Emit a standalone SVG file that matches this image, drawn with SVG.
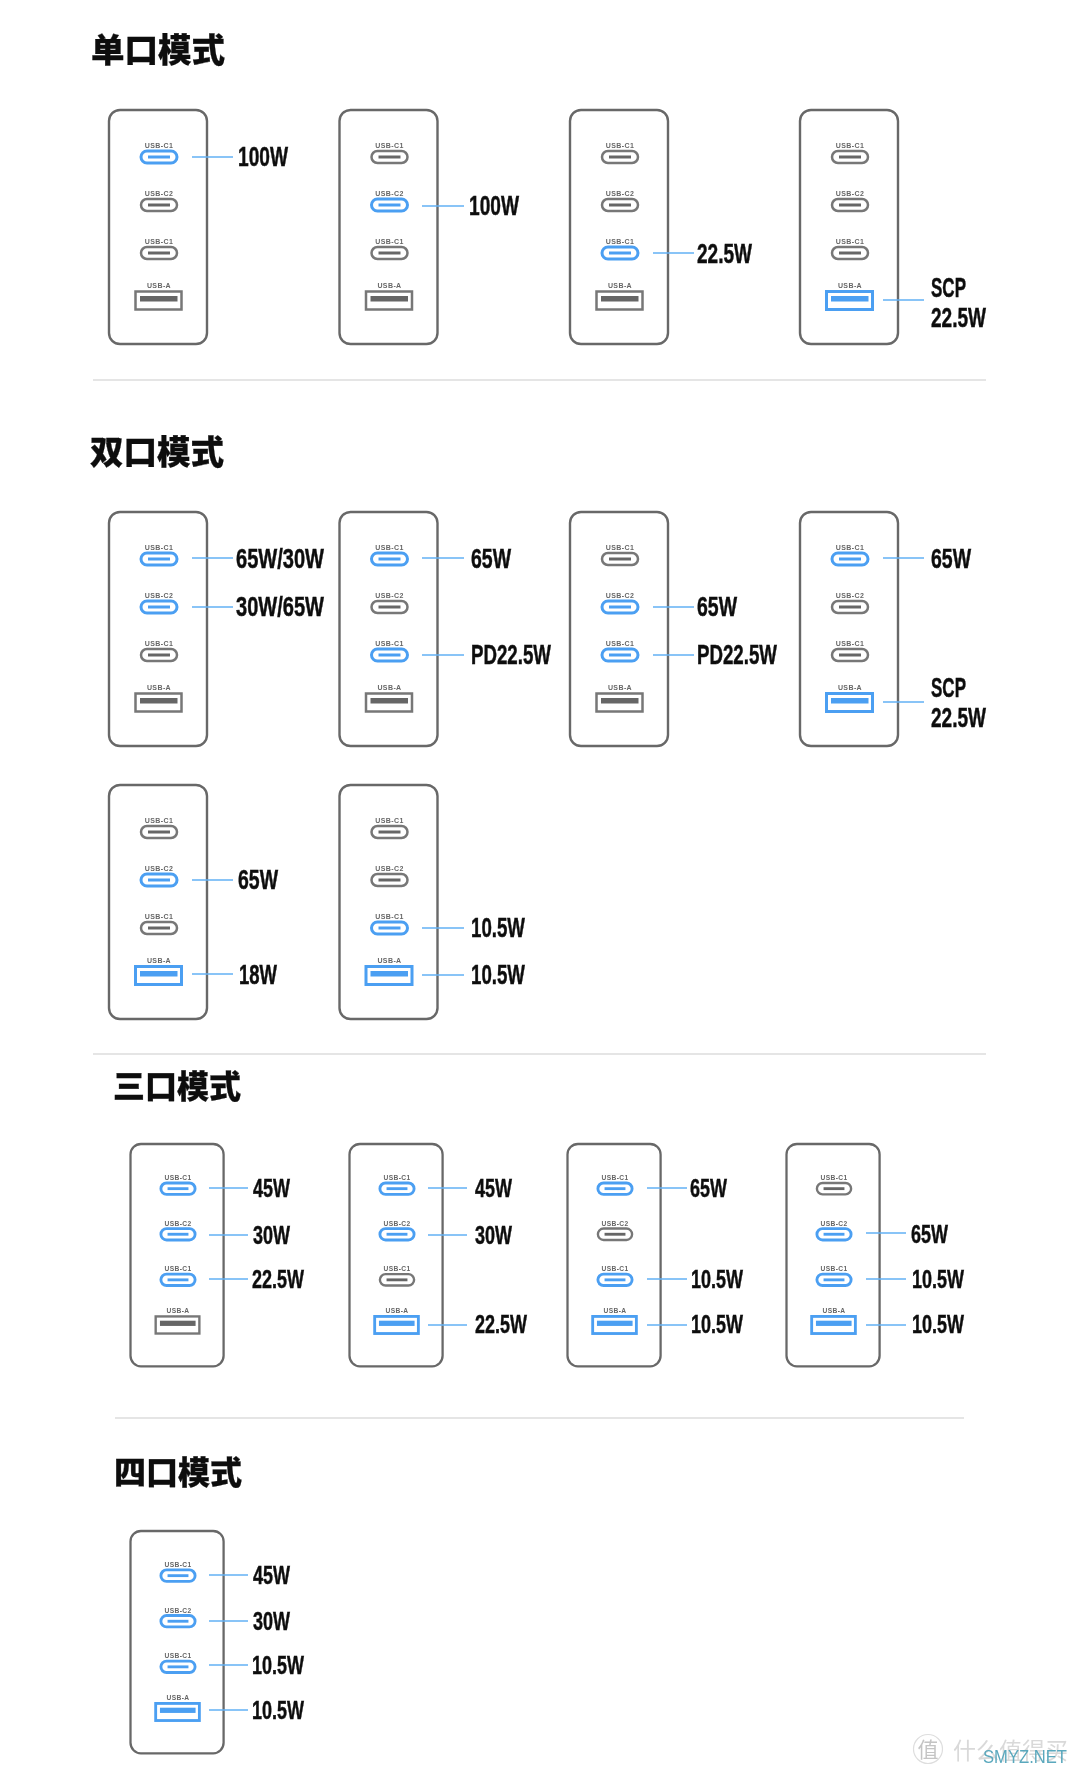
<svg xmlns="http://www.w3.org/2000/svg" width="1080" height="1776" viewBox="0 0 1080 1776">
<style>
.t{font-family:"Noto Sans CJK SC","Liberation Sans",sans-serif;font-weight:900;fill:#111;stroke:#111;stroke-width:.3}
.w{font-family:"Liberation Sans",Arial,sans-serif;font-weight:700;font-size:28px;fill:#111;stroke:#111;stroke-width:.5;transform:translateY(-1px)}
.s{font-size:26.5px}
.p{font-family:"Liberation Sans",Arial,sans-serif;font-weight:700;font-size:7px;fill:#666;text-anchor:middle;letter-spacing:.4px}
.body{fill:#fff;stroke:#686868;stroke-width:2.4}
.g{fill:#fff;stroke:#777;stroke-width:2.5}
.b{fill:#fff;stroke:#4b9ff2;stroke-width:3}
.gi{stroke:#666;stroke-width:3;fill:none}
.bi{stroke:#4b9ff2;stroke-width:3;fill:none}
.gb{fill:#666}
.bb{fill:#4b9ff2}
.c line{stroke:#62b0f4;stroke-width:1.5}
.d{stroke:#dcdcdc;stroke-width:1.4}
</style>
<defs>
<filter id="soft" x="0" y="0" width="100%" height="100%"><feGaussianBlur stdDeviation="0.45"/></filter>
<rect id="body" class="body" x="0" y="0" width="98" height="234" rx="11"/>
<g id="cg"><rect class="g" x="32" y="-6" width="36" height="12" rx="6"/><line class="gi" x1="39" y1="0" x2="61" y2="0"/></g>
<g id="cb"><rect class="b" x="32" y="-6" width="36" height="12" rx="6"/><line class="bi" x1="39" y1="0" x2="61" y2="0"/></g>
<g id="ag"><rect class="g" x="26.500" y="181.500" width="46" height="18"/><rect class="gb" x="31" y="186" width="37.500" height="5.500"/></g>
<g id="ab"><rect class="b" x="26.500" y="181.500" width="46" height="18"/><rect class="bb" x="31" y="186" width="37.500" height="5.500"/></g>
</defs>
<rect width="1080" height="1776" fill="#fff"/>
<g filter="url(#soft)">
<g id="titles">
<text class="t" x="91" y="62" font-size="33.500">单口模式</text>
<text class="t" x="90" y="464" font-size="33.500">双口模式</text>
<text class="t" x="113" y="1098" font-size="32">三口模式</text>
<text class="t" x="114" y="1484" font-size="32">四口模式</text>
</g>
<g id="dividers">
<line class="d" x1="93" y1="380" x2="986" y2="380"/>
<line class="d" x1="93" y1="1054" x2="986" y2="1054"/>
<line class="d" x1="115" y1="1418" x2="964" y2="1418"/>
</g>

<g id="a1"><g transform="translate(109,110)"><use href="#body"/><text class="p" x="50" y="38">USB-C1</text><use href="#cb" y="47"/><text class="p" x="50" y="86">USB-C2</text><use href="#cg" y="95"/><text class="p" x="50" y="134">USB-C1</text><use href="#cg" y="143"/><text class="p" x="50" y="178">USB-A</text><use href="#ag"/></g><text class="w" x="238" y="167" textLength="50" lengthAdjust="spacingAndGlyphs">100W</text></g>
<g id="a2"><g transform="translate(339.500,110)"><use href="#body"/><text class="p" x="50" y="38">USB-C1</text><use href="#cg" y="47"/><text class="p" x="50" y="86">USB-C2</text><use href="#cb" y="95"/><text class="p" x="50" y="134">USB-C1</text><use href="#cg" y="143"/><text class="p" x="50" y="178">USB-A</text><use href="#ag"/></g><text class="w" x="469" y="216" textLength="50" lengthAdjust="spacingAndGlyphs">100W</text></g>
<g id="a3"><g transform="translate(570,110)"><use href="#body"/><text class="p" x="50" y="38">USB-C1</text><use href="#cg" y="47"/><text class="p" x="50" y="86">USB-C2</text><use href="#cg" y="95"/><text class="p" x="50" y="134">USB-C1</text><use href="#cb" y="143"/><text class="p" x="50" y="178">USB-A</text><use href="#ag"/></g><text class="w" x="697" y="264" textLength="55" lengthAdjust="spacingAndGlyphs">22.5W</text></g>
<g id="a4"><g transform="translate(800,110)"><use href="#body"/><text class="p" x="50" y="38">USB-C1</text><use href="#cg" y="47"/><text class="p" x="50" y="86">USB-C2</text><use href="#cg" y="95"/><text class="p" x="50" y="134">USB-C1</text><use href="#cg" y="143"/><text class="p" x="50" y="178">USB-A</text><use href="#ab"/></g><text class="w" x="931" y="298" textLength="35" lengthAdjust="spacingAndGlyphs">SCP</text><text class="w" x="931" y="328" textLength="55" lengthAdjust="spacingAndGlyphs">22.5W</text></g>

<g id="b1"><g transform="translate(109,512)"><use href="#body"/><text class="p" x="50" y="38">USB-C1</text><use href="#cb" y="47"/><text class="p" x="50" y="86">USB-C2</text><use href="#cb" y="95"/><text class="p" x="50" y="134">USB-C1</text><use href="#cg" y="143"/><text class="p" x="50" y="178">USB-A</text><use href="#ag"/></g><text class="w" x="236" y="569" textLength="88" lengthAdjust="spacingAndGlyphs">65W/30W</text><text class="w" x="236" y="617" textLength="88" lengthAdjust="spacingAndGlyphs">30W/65W</text></g>
<g id="b2"><g transform="translate(339.500,512)"><use href="#body"/><text class="p" x="50" y="38">USB-C1</text><use href="#cb" y="47"/><text class="p" x="50" y="86">USB-C2</text><use href="#cg" y="95"/><text class="p" x="50" y="134">USB-C1</text><use href="#cb" y="143"/><text class="p" x="50" y="178">USB-A</text><use href="#ag"/></g><text class="w" x="471" y="569" textLength="40" lengthAdjust="spacingAndGlyphs">65W</text><text class="w" x="471" y="665" textLength="80" lengthAdjust="spacingAndGlyphs">PD22.5W</text></g>
<g id="b3"><g transform="translate(570,512)"><use href="#body"/><text class="p" x="50" y="38">USB-C1</text><use href="#cg" y="47"/><text class="p" x="50" y="86">USB-C2</text><use href="#cb" y="95"/><text class="p" x="50" y="134">USB-C1</text><use href="#cb" y="143"/><text class="p" x="50" y="178">USB-A</text><use href="#ag"/></g><text class="w" x="697" y="617" textLength="40" lengthAdjust="spacingAndGlyphs">65W</text><text class="w" x="697" y="665" textLength="80" lengthAdjust="spacingAndGlyphs">PD22.5W</text></g>
<g id="b4"><g transform="translate(800,512)"><use href="#body"/><text class="p" x="50" y="38">USB-C1</text><use href="#cb" y="47"/><text class="p" x="50" y="86">USB-C2</text><use href="#cg" y="95"/><text class="p" x="50" y="134">USB-C1</text><use href="#cg" y="143"/><text class="p" x="50" y="178">USB-A</text><use href="#ab"/></g><text class="w" x="931" y="569" textLength="40" lengthAdjust="spacingAndGlyphs">65W</text><text class="w" x="931" y="698" textLength="35" lengthAdjust="spacingAndGlyphs">SCP</text><text class="w" x="931" y="728" textLength="55" lengthAdjust="spacingAndGlyphs">22.5W</text></g>

<g id="b5"><g transform="translate(109,785)"><use href="#body"/><text class="p" x="50" y="38">USB-C1</text><use href="#cg" y="47"/><text class="p" x="50" y="86">USB-C2</text><use href="#cb" y="95"/><text class="p" x="50" y="134">USB-C1</text><use href="#cg" y="143"/><text class="p" x="50" y="178">USB-A</text><use href="#ab"/></g><text class="w" x="238" y="890" textLength="40" lengthAdjust="spacingAndGlyphs">65W</text><text class="w" x="239" y="985" textLength="38" lengthAdjust="spacingAndGlyphs">18W</text></g>
<g id="b6"><g transform="translate(339.500,785)"><use href="#body"/><text class="p" x="50" y="38">USB-C1</text><use href="#cg" y="47"/><text class="p" x="50" y="86">USB-C2</text><use href="#cg" y="95"/><text class="p" x="50" y="134">USB-C1</text><use href="#cb" y="143"/><text class="p" x="50" y="178">USB-A</text><use href="#ab"/></g><text class="w" x="471" y="938" textLength="54" lengthAdjust="spacingAndGlyphs">10.5W</text><text class="w" x="471" y="985" textLength="54" lengthAdjust="spacingAndGlyphs">10.5W</text></g>

<g id="c1"><g transform="translate(130.500,1144) scale(.95)"><use href="#body"/><text class="p" x="50" y="38">USB-C1</text><use href="#cb" y="47"/><text class="p" x="50" y="86">USB-C2</text><use href="#cb" y="95"/><text class="p" x="50" y="134">USB-C1</text><use href="#cb" y="143"/><text class="p" x="50" y="178">USB-A</text><use href="#ag"/></g><text class="w s" x="253" y="1198" textLength="37" lengthAdjust="spacingAndGlyphs">45W</text><text class="w s" x="253" y="1245" textLength="37" lengthAdjust="spacingAndGlyphs">30W</text><text class="w s" x="252" y="1289" textLength="52" lengthAdjust="spacingAndGlyphs">22.5W</text></g>
<g id="c2"><g transform="translate(349.500,1144) scale(.95)"><use href="#body"/><text class="p" x="50" y="38">USB-C1</text><use href="#cb" y="47"/><text class="p" x="50" y="86">USB-C2</text><use href="#cb" y="95"/><text class="p" x="50" y="134">USB-C1</text><use href="#cg" y="143"/><text class="p" x="50" y="178">USB-A</text><use href="#ab"/></g><text class="w s" x="475" y="1198" textLength="37" lengthAdjust="spacingAndGlyphs">45W</text><text class="w s" x="475" y="1245" textLength="37" lengthAdjust="spacingAndGlyphs">30W</text><text class="w s" x="475" y="1334" textLength="52" lengthAdjust="spacingAndGlyphs">22.5W</text></g>
<g id="c3"><g transform="translate(567.500,1144) scale(.95)"><use href="#body"/><text class="p" x="50" y="38">USB-C1</text><use href="#cb" y="47"/><text class="p" x="50" y="86">USB-C2</text><use href="#cg" y="95"/><text class="p" x="50" y="134">USB-C1</text><use href="#cb" y="143"/><text class="p" x="50" y="178">USB-A</text><use href="#ab"/></g><text class="w s" x="690" y="1198" textLength="37" lengthAdjust="spacingAndGlyphs">65W</text><text class="w s" x="691" y="1289" textLength="52" lengthAdjust="spacingAndGlyphs">10.5W</text><text class="w s" x="691" y="1334" textLength="52" lengthAdjust="spacingAndGlyphs">10.5W</text></g>
<g id="c4"><g transform="translate(786.500,1144) scale(.95)"><use href="#body"/><text class="p" x="50" y="38">USB-C1</text><use href="#cg" y="47"/><text class="p" x="50" y="86">USB-C2</text><use href="#cb" y="95"/><text class="p" x="50" y="134">USB-C1</text><use href="#cb" y="143"/><text class="p" x="50" y="178">USB-A</text><use href="#ab"/></g><text class="w s" x="911" y="1244" textLength="37" lengthAdjust="spacingAndGlyphs">65W</text><text class="w s" x="912" y="1289" textLength="52" lengthAdjust="spacingAndGlyphs">10.5W</text><text class="w s" x="912" y="1334" textLength="52" lengthAdjust="spacingAndGlyphs">10.5W</text></g>

<g id="d1"><g transform="translate(130.500,1531) scale(.95)"><use href="#body"/><text class="p" x="50" y="38">USB-C1</text><use href="#cb" y="47"/><text class="p" x="50" y="86">USB-C2</text><use href="#cb" y="95"/><text class="p" x="50" y="134">USB-C1</text><use href="#cb" y="143"/><text class="p" x="50" y="178">USB-A</text><use href="#ab"/></g><text class="w s" x="253" y="1585" textLength="37" lengthAdjust="spacingAndGlyphs">45W</text><text class="w s" x="253" y="1631" textLength="37" lengthAdjust="spacingAndGlyphs">30W</text><text class="w s" x="252" y="1675" textLength="52" lengthAdjust="spacingAndGlyphs">10.5W</text><text class="w s" x="252" y="1720" textLength="52" lengthAdjust="spacingAndGlyphs">10.5W</text></g>

<g id="connectors" class="c">
<line x1="192" y1="157" x2="233" y2="157"/><line x1="422" y1="206" x2="464" y2="206"/><line x1="653" y1="253" x2="694" y2="253"/><line x1="883" y1="300" x2="924" y2="300"/>
<line x1="192" y1="558" x2="233" y2="558"/><line x1="192" y1="607" x2="233" y2="607"/>
<line x1="422" y1="558" x2="464" y2="558"/><line x1="422" y1="655" x2="464" y2="655"/>
<line x1="653" y1="607" x2="694" y2="607"/><line x1="653" y1="655" x2="694" y2="655"/>
<line x1="883" y1="558" x2="924" y2="558"/><line x1="883" y1="702" x2="924" y2="702"/>
<line x1="192" y1="880" x2="233" y2="880"/><line x1="192" y1="974" x2="233" y2="974"/>
<line x1="422" y1="928" x2="464" y2="928"/><line x1="422" y1="975" x2="464" y2="975"/>
<line x1="209" y1="1188" x2="248" y2="1188"/><line x1="209" y1="1235" x2="248" y2="1235"/><line x1="209" y1="1279" x2="248" y2="1279"/>
<line x1="428" y1="1188" x2="467" y2="1188"/><line x1="428" y1="1235" x2="467" y2="1235"/><line x1="428" y1="1325" x2="467" y2="1325"/>
<line x1="647" y1="1188" x2="687" y2="1188"/><line x1="647" y1="1279" x2="687" y2="1279"/><line x1="647" y1="1325" x2="687" y2="1325"/>
<line x1="866" y1="1233" x2="906" y2="1233"/><line x1="866" y1="1279" x2="906" y2="1279"/><line x1="866" y1="1325" x2="906" y2="1325"/>
<line x1="209" y1="1575" x2="248" y2="1575"/><line x1="209" y1="1621" x2="248" y2="1621"/><line x1="209" y1="1665" x2="248" y2="1665"/><line x1="209" y1="1710" x2="248" y2="1710"/>
</g>

<g id="watermark">
<circle cx="928" cy="1749" r="14.500" fill="none" stroke="#dedede" stroke-width="1.200"/>
<text x="928" y="1757" font-size="21" text-anchor="middle" fill="#c4c4c4" style="font-family:'Noto Sans CJK SC',sans-serif">值</text>
<text x="953" y="1759" font-size="23" fill="#d9d9d9" style="font-family:'Noto Sans CJK SC',sans-serif">什么值得买</text>
<text x="983" y="1763" font-size="18" fill="#5aa8bd" textLength="84" lengthAdjust="spacingAndGlyphs" style="font-family:'Liberation Sans',sans-serif">SMYZ.NET</text>
</g>
</g>
</svg>
